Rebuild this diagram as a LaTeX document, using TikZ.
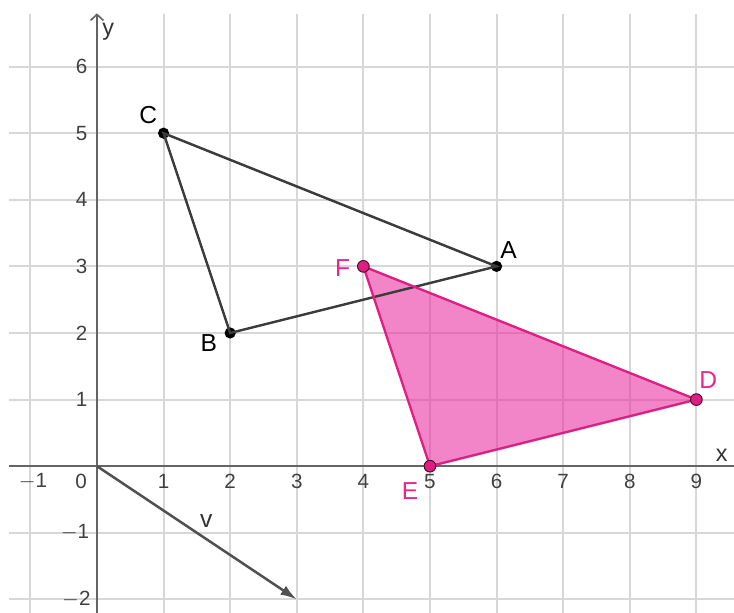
\documentclass[tikz,border=0pt]{standalone}
\usepackage{fontspec}
\setmainfont{Liberation Sans}
\usetikzlibrary{arrows.meta}
\definecolor{gridc}{RGB}{215,215,215}
\definecolor{axisc}{RGB}{100,100,100}
\definecolor{segc}{RGB}{60,60,60}
\definecolor{pinkl}{RGB}{222,30,130}
\definecolor{pinkf}{RGB}{232,45,158}
\definecolor{pinkt}{RGB}{228,40,140}
\tikzset{
  gridline/.style={draw=gridc, line width=0.9pt},
  axisline/.style={draw=axisc, line width=0.7pt},
  ticklab/.style={font=\fontsize{8.8}{10}\selectfont, text=black!75, inner sep=0pt},
  ptlab/.style={font=\fontsize{10.5}{12}\selectfont, inner sep=0pt},
  blackpt/.style={circle, fill=black, inner sep=0pt, minimum size=4.8pt},
  pinkpt/.style={circle, fill=pinkl, draw=black!70!pinkl, line width=0.4pt, inner sep=0pt, minimum size=5pt},
  seg/.style={draw=segc, line width=1.05pt},
  pseg/.style={draw=pinkl, line width=1pt},
}
\begin{document}
\begin{tikzpicture}
\useasboundingbox (-1.456,-2.19) rectangle (9.565,7.0);
% grid
\foreach \x in {-1,...,9} \draw[gridline] (\x,-2.25) -- (\x,6.79);
\foreach \y in {-2,...,6} \draw[gridline] (-1.32,\y) -- (9.6,\y);
% axes
\draw[axisline] (-1.32,0) -- (9.62,0);
\draw[axisline, -{Straight Barb[length=2.6pt,width=5.5pt]}] (0,-2.25) -- (0,6.8);
\node[ticklab, font=\fontsize{10}{12}\selectfont, text=black!80] (xl) at (9.38,0.165) {x};
\node[ticklab, font=\fontsize{10}{12}\selectfont, text=black!80] (yl) at (0.17,6.53) {y};
% tick labels
\node[ticklab] (tm1) at (-0.96,-0.225) {$-$1};
\node[ticklab] (t0) at (-0.24,-0.225) {0};
\foreach \x in {1,...,9} \node[ticklab] (t\x) at (\x,-0.225) {\x};
\foreach \y in {1,...,6} \node[ticklab] (ty\y) at (-0.23,\y) {\y};
\node[ticklab] (tym1) at (-0.33,-1) {$-$1};
\node[ticklab] (tym2) at (-0.31,-2) {$-$2};
% pink triangle fill
\coordinate (Dc) at (9,1);
\coordinate (Ec) at (5,0);
\coordinate (Fc) at (4,3);
\fill[pinkf, fill opacity=0.58] (Dc) -- (Ec) -- (Fc) -- cycle;
% triangle ABC
\node[blackpt] (A) at (6,3) {};
\node[blackpt] (B) at (2,2) {};
\node[blackpt] (C) at (1,5) {};
\draw[seg] (A.center) -- (B.center) -- (C.center) -- cycle;
% pink edges
\draw[pseg] (Dc) -- (Ec) -- (Fc) -- cycle;
\node[pinkpt] (D) at (Dc) {};
\node[pinkpt] (E) at (Ec) {};
\node[pinkpt] (F) at (Fc) {};
% vector v
\coordinate (O) at (0,0);
\coordinate (V) at (3,-2);
\draw[seg, draw=segc!90, -{Latex[length=7pt,width=4.5pt]}] (O) -- (V);
% labels
\node[ptlab] (lA) at (6.18,3.25) {A};
\node[ptlab] (lB) at (1.68,1.85) {B};
\node[ptlab] (lC) at (0.77,5.27) {C};
\node[ptlab, text=pinkt] (lD) at (9.18,1.3) {D};
\node[ptlab, text=pinkt] (lE) at (4.7,-0.38) {E};
\node[ptlab, text=pinkt] (lF) at (3.69,2.98) {F};
\node[ptlab, text=black!80] (lv) at (1.64,-0.83) {v};
\end{tikzpicture}
\end{document}
